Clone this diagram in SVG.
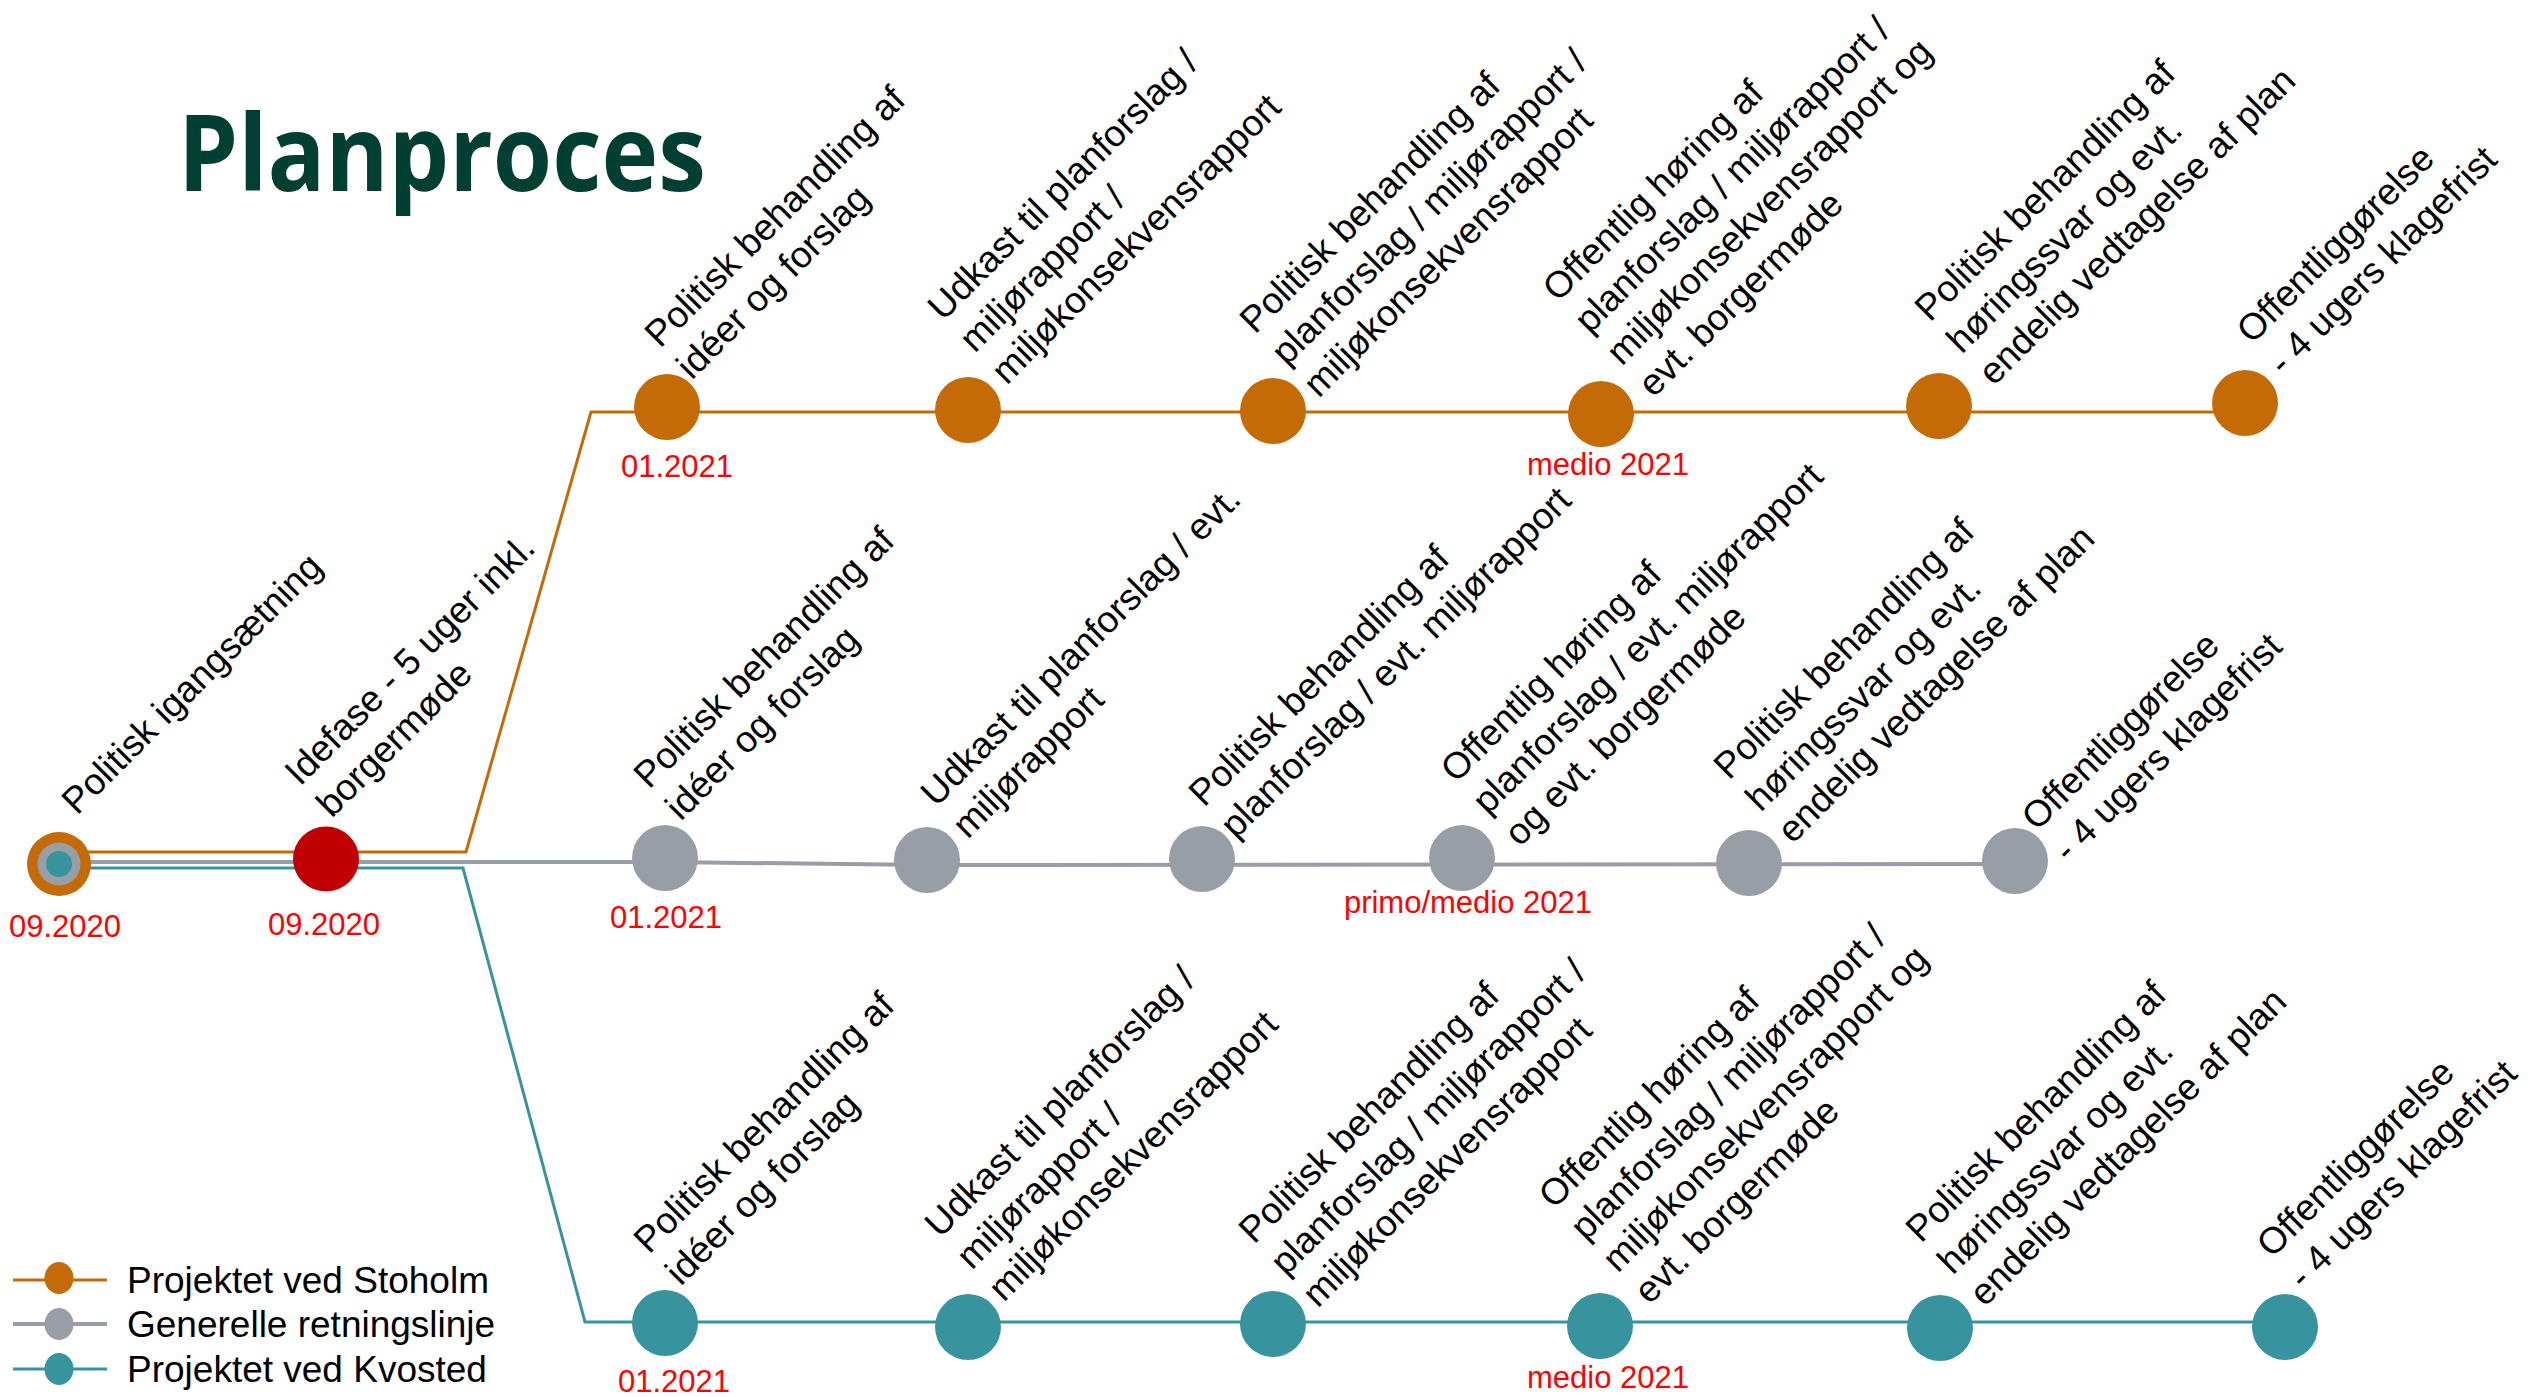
<svg xmlns="http://www.w3.org/2000/svg" width="2534" height="1397" viewBox="0 0 2534 1397">
<style>
.lbl{font-family:"Liberation Sans",Arial,sans-serif;font-size:37px;fill:#000}
.date{font-family:"Liberation Sans",Arial,sans-serif;font-size:31px;fill:#FF0000;text-anchor:middle}
.leg{font-family:"Liberation Sans",Arial,sans-serif;font-size:37px;fill:#000}
.title{font-family:"Open Sans","Liberation Sans",sans-serif;font-weight:bold;font-size:106px;fill:#003F31}
.o{fill:#C46A06}
.g{fill:#979EA6}
.t{fill:#37939D}
.r{fill:#C00000}
.lo{fill:none;stroke:#C46A06;stroke-width:3}
.lg{fill:none;stroke:#979EA6;stroke-width:4}
.lt{fill:none;stroke:#37939D;stroke-width:3}
</style>
<rect width="2534" height="1397" fill="#FFFFFF"/>
<text class="title" x="178" y="191" textLength="528" lengthAdjust="spacingAndGlyphs">Planproces</text>

<g id="connectors">
<polyline class="lo" points="59,852 466,852 591,412 2245,412"/>
<polyline class="lg" points="59,862 665,862 927,865 2015,864"/>
<polyline class="lt" points="59,868 463,868 585,1322 2285,1322"/>
</g>

<g id="start">
<circle class="o" cx="59" cy="864" r="32"/>
<circle class="g" cx="59" cy="864" r="21.5"/>
<circle class="t" cx="59" cy="864" r="13"/>
<text class="date" x="65" y="937">09.2020</text>
<text class="lbl" transform="translate(77,816) rotate(-45)">Politisk igangsætning</text>
</g>
<g id="idefase">
<ellipse class="r" cx="326" cy="859" rx="33" ry="32.5"/>
<text class="date" x="324" y="935">09.2020</text>
<text class="lbl" transform="translate(300,787) rotate(-45)"><tspan x="0" y="0">Idefase - 5 uger inkl.</tspan><tspan x="0" y="45">borgermøde</tspan></text>
</g>

<g id="s1">
<circle class="o" cx="667" cy="407" r="33"/>
<text class="date" x="677" y="477">01.2021</text>
<text class="lbl" transform="translate(660,349) rotate(-45)"><tspan x="0" y="0">Politisk behandling af</tspan><tspan x="0" y="45">idéer og forslag</tspan></text>
</g>
<g id="s2">
<circle class="o" cx="968" cy="410" r="33"/>
<text class="lbl" transform="translate(943,322) rotate(-45)"><tspan x="0" y="0">Udkast til planforslag /</tspan><tspan x="0" y="45">miljørapport /</tspan><tspan x="0" y="90">miljøkonsekvensrapport</tspan></text>
</g>
<g id="s3">
<circle class="o" cx="1273" cy="411" r="33"/>
<text class="lbl" transform="translate(1255,335) rotate(-45)"><tspan x="0" y="0">Politisk behandling af</tspan><tspan x="0" y="45">planforslag / miljørapport /</tspan><tspan x="0" y="90">miljøkonsekvensrapport</tspan></text>
</g>
<g id="s4">
<circle class="o" cx="1601" cy="414" r="33"/>
<text class="date" x="1608" y="475">medio 2021</text>
<text class="lbl" transform="translate(1558,303) rotate(-45)"><tspan x="0" y="0">Offentlig høring af</tspan><tspan x="0" y="45">planforslag / miljørapport /</tspan><tspan x="0" y="90">miljøkonsekvensrapport og</tspan><tspan x="0" y="135">evt. borgermøde</tspan></text>
</g>
<g id="s5">
<circle class="o" cx="1939" cy="406" r="33"/>
<text class="lbl" transform="translate(1930,323) rotate(-45)"><tspan x="0" y="0">Politisk behandling af</tspan><tspan x="0" y="45">høringssvar og evt.</tspan><tspan x="0" y="90">endelig vedtagelse af plan</tspan></text>
</g>
<g id="s6">
<circle class="o" cx="2245" cy="403" r="33"/>
<text class="lbl" transform="translate(2252,345) rotate(-45)"><tspan x="0" y="0">Offentliggørelse</tspan><tspan x="0" y="45">- 4 ugers klagefrist</tspan></text>
</g>

<g id="g1">
<circle class="g" cx="665" cy="858" r="33"/>
<text class="date" x="666" y="928">01.2021</text>
<text class="lbl" transform="translate(649,790) rotate(-45)"><tspan x="0" y="0">Politisk behandling af</tspan><tspan x="0" y="45">idéer og forslag</tspan></text>
</g>
<g id="g2">
<circle class="g" cx="927" cy="860" r="33"/>
<text class="lbl" transform="translate(936,808) rotate(-45)"><tspan x="0" y="0">Udkast til planforslag / evt.</tspan><tspan x="0" y="45">miljørapport</tspan></text>
</g>
<g id="g3">
<circle class="g" cx="1202" cy="859" r="33"/>
<text class="lbl" transform="translate(1204,808) rotate(-45)"><tspan x="0" y="0">Politisk behandling af</tspan><tspan x="0" y="45">planforslag / evt. miljørapport</tspan></text>
</g>
<g id="g4">
<circle class="g" cx="1462" cy="858" r="33"/>
<text class="date" x="1468" y="913">primo/medio 2021</text>
<text class="lbl" transform="translate(1456,784) rotate(-45)"><tspan x="0" y="0">Offentlig høring af</tspan><tspan x="0" y="45">planforslag / evt. miljørapport</tspan><tspan x="0" y="90">og evt. borgermøde</tspan></text>
</g>
<g id="g5">
<circle class="g" cx="1749" cy="863" r="33"/>
<text class="lbl" transform="translate(1729,781) rotate(-45)"><tspan x="0" y="0">Politisk behandling af</tspan><tspan x="0" y="45">høringssvar og evt.</tspan><tspan x="0" y="90">endelig vedtagelse af plan</tspan></text>
</g>
<g id="g6">
<circle class="g" cx="2015" cy="861" r="33"/>
<text class="lbl" transform="translate(2037,832) rotate(-45)"><tspan x="0" y="0">Offentliggørelse</tspan><tspan x="0" y="45">- 4 ugers klagefrist</tspan></text>
</g>

<g id="k1">
<circle class="t" cx="665" cy="1323" r="33"/>
<text class="date" x="674" y="1392">01.2021</text>
<text class="lbl" transform="translate(649,1255) rotate(-45)"><tspan x="0" y="0">Politisk behandling af</tspan><tspan x="0" y="45">idéer og forslag</tspan></text>
</g>
<g id="k2">
<circle class="t" cx="968" cy="1327" r="33"/>
<text class="lbl" transform="translate(940,1239) rotate(-45)"><tspan x="0" y="0">Udkast til planforslag /</tspan><tspan x="0" y="45">miljørapport /</tspan><tspan x="0" y="90">miljøkonsekvensrapport</tspan></text>
</g>
<g id="k3">
<circle class="t" cx="1273" cy="1324" r="33"/>
<text class="lbl" transform="translate(1254,1245) rotate(-45)"><tspan x="0" y="0">Politisk behandling af</tspan><tspan x="0" y="45">planforslag / miljørapport /</tspan><tspan x="0" y="90">miljøkonsekvensrapport</tspan></text>
</g>
<g id="k4">
<circle class="t" cx="1600" cy="1326" r="33"/>
<text class="date" x="1608" y="1388">medio 2021</text>
<text class="lbl" transform="translate(1554,1210) rotate(-45)"><tspan x="0" y="0">Offentlig høring af</tspan><tspan x="0" y="45">planforslag / miljørapport /</tspan><tspan x="0" y="90">miljøkonsekvensrapport og</tspan><tspan x="0" y="135">evt. borgermøde</tspan></text>
</g>
<g id="k5">
<circle class="t" cx="1940" cy="1328" r="33"/>
<text class="lbl" transform="translate(1921,1244) rotate(-45)"><tspan x="0" y="0">Politisk behandling af</tspan><tspan x="0" y="45">høringssvar og evt.</tspan><tspan x="0" y="90">endelig vedtagelse af plan</tspan></text>
</g>
<g id="k6">
<circle class="t" cx="2285" cy="1327" r="33"/>
<text class="lbl" transform="translate(2272,1259) rotate(-45)"><tspan x="0" y="0">Offentliggørelse</tspan><tspan x="0" y="45">- 4 ugers klagefrist</tspan></text>
</g>

<g id="legend">
<line class="lo" x1="13" y1="1280" x2="107" y2="1280"/>
<ellipse class="o" cx="59" cy="1278" rx="14.5" ry="16"/>
<text class="leg" x="127" y="1293">Projektet ved Stoholm</text>
<line class="lg" x1="13" y1="1324" x2="107" y2="1324"/>
<ellipse class="g" cx="59" cy="1324" rx="14.5" ry="16"/>
<text class="leg" x="127" y="1337">Generelle retningslinje</text>
<line class="lt" x1="13" y1="1369" x2="107" y2="1369"/>
<ellipse class="t" cx="59" cy="1369" rx="14.5" ry="16"/>
<text class="leg" x="127" y="1382">Projektet ved Kvosted</text>
</g>
</svg>
